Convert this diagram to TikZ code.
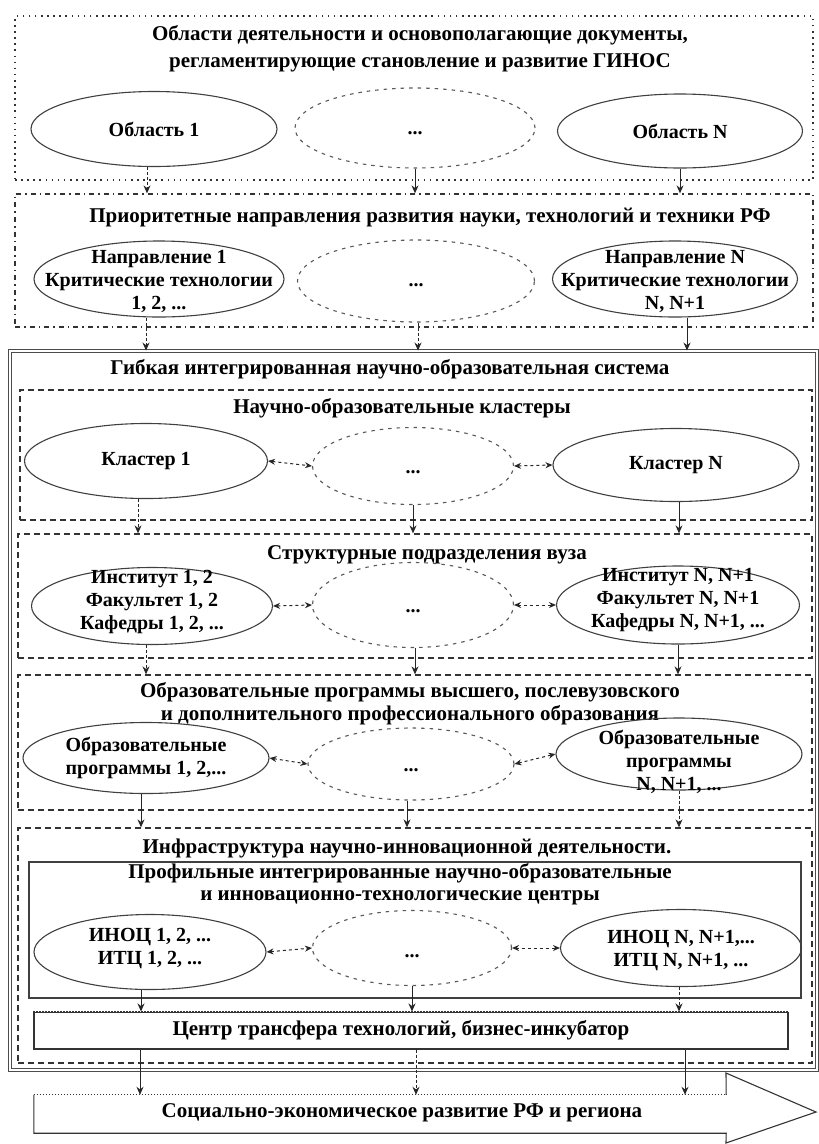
\documentclass[tikz,border=0pt]{standalone}
\usepackage{fontspec}
\setmainfont{Liberation Serif}
\usetikzlibrary{shapes.geometric,arrows.meta,calc}
\begin{document}
\begin{tikzpicture}[x=1pt,y=-1pt,
  tt/.style={font=\bfseries\fontsize{21}{27}\selectfont, align=center, inner sep=0pt},
  et/.style={font=\bfseries\fontsize{20}{23}\selectfont, align=center, inner sep=0pt},
  ell/.style={ellipse, draw=black!75, line width=1.1pt, inner sep=0pt},
  ellm/.style={ellipse, draw=black!65, line width=1.1pt, inner sep=0pt, dash pattern=on 3.5pt off 5pt},
  boxa/.style={draw=black!80, line width=1.3pt, dash pattern=on 1.6pt off 4.5pt, inner sep=0pt},
  boxb/.style={draw=black!80, line width=1.3pt, dash pattern=on 5pt off 4pt on 1.6pt off 4pt, inner sep=0pt},
  boxc/.style={draw=black!80, line width=1.3pt, dash pattern=on 6pt off 4pt, inner sep=0pt},
  bigbox/.style={draw=black!70, line width=0.9pt, double=white, double distance=1.4pt, inner sep=0pt},
  innerbox/.style={draw=black!75, line width=1.6pt, inner sep=0pt},
  arr/.style={-{Stealth[length=8pt,width=7pt]}, line width=1pt, black!85},
  dsh/.style={dash pattern=on 3pt off 2pt},
  bid/.style={{Stealth[length=7pt,width=6pt]}-{Stealth[length=7pt,width=6pt]}, line width=1pt, black!85, dash pattern=on 3pt off 3pt},
]
\useasboundingbox (0,0) rectangle (819,1144);
\fill[white] (0,0) rectangle (819,1144);

% ---------- Box 1
\node[boxa, minimum width=798, minimum height=164] (b1) at (414,98) {};
\node[tt] (b1t) at (420,49) {Области деятельности и основополагающие документы,\\регламентирующие становление и развитие ГИНОС};
\node[ell, minimum width=246, minimum height=75] (e11) at (154,129) {};
\node[ellm, minimum width=240, minimum height=80] (e12) at (415,128) {};
\node[ell, minimum width=245, minimum height=74] (e13) at (680,131) {};
\node[et] (e11t) at (e11) {Область 1};
\node[et] (e12t) at (415,133) {...};
\node[et] (e13t) at (e13) {Область N};

% ---------- Box 2
\node[boxb, minimum width=798, minimum height=133] (b2) at (414,260.5) {};
\node[tt] (b2t) at (430,218) {Приоритетные направления развития науки, технологий и техники РФ};
\node[ell, minimum width=250, minimum height=76] (e21) at (159,279) {};
\node[ellm, minimum width=237, minimum height=82] (e22) at (416,281) {};
\node[ell, minimum width=245, minimum height=76] (e23) at (675,279) {};
\node[et] (e21t) at (159,281) {Направление 1\\Критические технологии\\1, 2, ...};
\node[et] (e22t) at (416,285) {...};
\node[et] (e23t) at (675,281) {Направление N\\Критические технологии\\N, N+1};

% ---------- Big box
\node[bigbox, minimum width=807, minimum height=719] (b3) at (413.5,710.5) {};
\node[tt] (b3t) at (390,369) {Гибкая интегрированная научно-образовательная система};

% ---------- Box 4
\node[boxc, minimum width=792, minimum height=130] (b4) at (416,455) {};
\node[tt] (b4t) at (402,408) {Научно-образовательные кластеры};
\node[ell, minimum width=243, minimum height=75] (e41) at (146,461) {};
\node[ellm, minimum width=201, minimum height=77] (e42) at (413,466) {};
\node[ell, minimum width=246, minimum height=73] (e43) at (676,465) {};
\node[et] (e41t) at (e41) {Кластер 1};
\node[et] (e42t) at (413,472) {...};
\node[et] (e43t) at (e43) {Кластер N};

% ---------- Box 5
\node[boxc, minimum width=794, minimum height=124] (b5) at (415,596) {};
\node[tt] (b5t) at (427,555) {Структурные подразделения вуза};
\node[ell, minimum width=241, minimum height=77] (e51) at (152,606) {};
\node[ellm, minimum width=201, minimum height=85] (e52) at (413,605) {};
\node[ell, minimum width=243, minimum height=78] (e53) at (678,605) {};
\node[et] (e51t) at (152,602) {Институт 1, 2\\Факультет 1, 2\\Кафедры 1, 2, ...};
\node[et] (e52t) at (413,611) {...};
\node[et] (e53t) at (678,600) {Институт N, N+1\\Факультет N, N+1\\Кафедры N, N+1, ...};

% ---------- Box 6
\node[boxc, minimum width=794, minimum height=135] (b6) at (415,742.5) {};
\node[tt, font=\bfseries\fontsize{21}{23}\selectfont] (b6t) at (410,703.5) {Образовательные программы высшего, послевузовского\\и дополнительного профессионального образования};
\node[ell, minimum width=246, minimum height=71] (e61) at (146,758) {};
\node[ellm, minimum width=206, minimum height=72] (e62) at (411,764) {};
\node[ell, minimum width=246, minimum height=72] (e63) at (679,754) {};
\node[et] (e61t) at (146,758) {Образовательные\\программы 1, 2,...};
\node[et] (e62t) at (411,770) {...};
\node[et] (e63t) at (679,762) {Образовательные\\программы\\N, N+1, ...};

% ---------- Box 7
\node[boxc, minimum width=794, minimum height=235] (b7) at (415,945.5) {};
\node[tt] (b7t) at (407,848) {Инфраструктура научно-инновационной деятельности.};
\node[innerbox, minimum width=772, minimum height=136] (b8) at (415,930) {};
\node[tt, font=\bfseries\fontsize{21}{22}\selectfont] (b8t) at (400,884) {Профильные интегрированные научно-образовательные\\и инновационно-технологические центры};
\node[ell, minimum width=232, minimum height=75] (e71) at (150,952) {};
\node[ellm, minimum width=199, minimum height=75] (e72) at (412,948) {};
\node[ell, minimum width=241, minimum height=77] (e73) at (681,948) {};
\node[et] (e71t) at (150,948) {ИНОЦ 1, 2, ...\\ИТЦ 1, 2, ...};
\node[et] (e72t) at (412,956) {...};
\node[et] (e73t) at (681,950) {ИНОЦ N, N+1,...\\ИТЦ N, N+1, ...};

% ---------- Centre box
\node[draw=black!80, line width=1.1pt, minimum width=754, minimum height=37, inner sep=0pt] (c) at (411,1030.5) {};
\draw[white, line width=1.6pt] (c.north west) -- (c.north east);
\draw[black!80, line width=1.2pt, dash pattern=on 1.5pt off 1.5pt] (c.north west) -- (c.north east);
\node[tt] (ct) at (401,1030) {Центр трансфера технологий, бизнес-инкубатор};

% ---------- Big arrow
\node[minimum width=692, minimum height=38, inner sep=0pt] (soc) at (380,1114) {};
\draw[black!80, line width=1.1pt] (soc.north east) -- (726,1073) -- (816,1112) -- (726,1143) -- (soc.south east) -- (soc.south west) -- (soc.north west);
\draw[black!80, line width=1.2pt, dash pattern=on 1.5pt off 1.5pt] (soc.north west) -- (soc.north east);
\node[tt] (soct) at (402,1113) {Социально-экономическое развитие РФ и региона};

% ---------- Connectors
\draw[arr,dsh] ([xshift=-7]e11.south) -- ([xshift=-7]e11.south |- b2.north);
\draw[arr] (e12.south) -- (e12.south |- b2.north);
\draw[arr] (e13.south) -- (e13.south |- b2.north);

\draw[arr,dsh] ([xshift=-13]e21.south) -- ([xshift=-13]e21.south |- b3.north);
\draw[arr,dsh] ([xshift=2]e22.south) -- ([xshift=2]e22.south |- b3.north);
\draw[arr] ([xshift=12]e23.south) -- ([xshift=12]e23.south |- b3.north);

\draw[bid] (e41.east) -- (e42.west);
\draw[bid] (e42.east) -- (e43.west);
\draw[arr,dsh] ([xshift=-8]e41.south) -- ([xshift=-8]e41.south |- b5.north);
\draw[arr] (e42.south) -- (e42.south |- b5.north);
\draw[arr] ([xshift=3]e43.south) -- ([xshift=3]e43.south |- b5.north);

\draw[bid] (e51.east) -- (e52.west);
\draw[bid] (e52.east) -- (e53.west);
\draw[arr,dsh] ([xshift=-6]e51.south) -- ([xshift=-6]e51.south |- b6.north);
\draw[arr] ([xshift=2]e52.south) -- ([xshift=2]e52.south |- b6.north);
\draw[arr] (e53.south) -- (e53.south |- b6.north);

\draw[bid] (e61.east) -- (e62.west);
\draw[bid] (e62.east) -- (e63.west);
\draw[arr] ([xshift=-5]e61.south) -- ([xshift=-5]e61.south |- b7.north);
\draw[arr] ([xshift=-4]e62.south) -- ([xshift=-4]e62.south |- b7.north);
\draw[arr,dsh] (e63.south) -- (e63.south |- b7.north);

\draw[bid] (e71.east) -- (e72.west);
\draw[bid] (e72.east) -- (e73.west);
\draw[arr] ([xshift=-9]e71.south) -- ([xshift=-9]e71.south |- c.north);
\draw[arr] (e72.south) -- (e72.south |- c.north);
\draw[arr,dsh] ([xshift=-2]e73.south) -- ([xshift=-2]e73.south |- c.north);

\draw[arr] ([xshift=-271]c.south) -- ([xshift=-271]c.south |- soc.north);
\draw[arr,dsh] ([xshift=5]c.south) -- ([xshift=5]c.south |- soc.north);
\draw[arr] ([xshift=274]c.south) -- ([xshift=274]c.south |- soc.north);
\end{tikzpicture}
\end{document}
